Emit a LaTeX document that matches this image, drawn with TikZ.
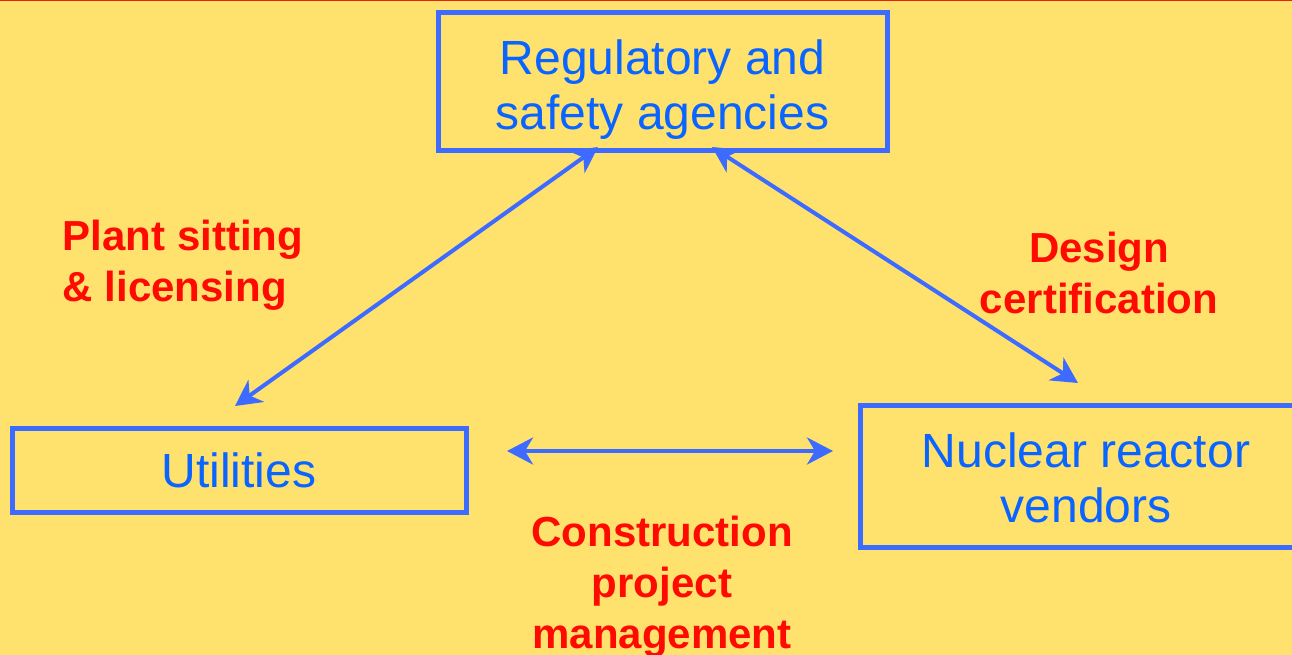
\documentclass[tikz,border=0pt]{standalone}
\usepackage{fontspec}
\setmainfont{Liberation Sans}
\usetikzlibrary{arrows.meta}
\definecolor{fondo}{HTML}{FFE16E}
\definecolor{azul}{HTML}{3D6BFF}
\definecolor{azultxt}{HTML}{0A64FF}
\definecolor{rojo}{HTML}{FF0A00}
\definecolor{borde}{HTML}{E8200F}

\begin{document}
\begin{tikzpicture}[x=1pt, y=-1pt,
      >={Stealth[length=26pt, width=27pt, inset=8pt]},
      caja/.style={draw=azul, line width=5pt, text=azultxt, align=center,
                   font=\fontsize{48}{55}\selectfont, inner sep=0pt},
      etiq/.style={text=rojo, font=\fontsize{42}{51}\selectfont\bfseries, inner sep=0pt},
      flecha/.style={azul, line width=4pt, <->}]
    \fill[fondo] (0,0) rectangle (1292,655);
    \useasboundingbox (0,0) rectangle (1292,655);
    \draw[borde, line width=3pt] (0,0) -- (1292,0);
    % cajas
    \node[caja, minimum width=449pt, minimum height=138pt] (reg) at (662.5,82)
        {\rule{0pt}{50pt}Regulatory and\\safety agencies};
    \node[caja, minimum width=454pt, minimum height=84pt] (util) at (239,470) {Utilities};
    \node[caja, minimum width=452pt, minimum height=142pt] (vend) at (1086,476)
        {\rule{0pt}{39pt}Nuclear reactor\\vendors};
    % extremos de las flechas
    \coordinate (regL) at (598,147);
    \coordinate (regR) at (712,147);
    \coordinate (utilT) at (235,406);
    \coordinate (vendT) at (1078,383);
    \coordinate (utilR) at (507,451);
    \coordinate (vendL) at (833,451);
    \draw[flecha] (regL) -- (utilT);
    \draw[flecha] (regR) -- (vendT);
    \draw[flecha] (utilR) -- (vendL);
    % etiquetas
    \node[etiq, align=left] (plant) at (183,265) {Plant sitting\\\& licensing};
    \node[etiq, align=center] (design) at (1099,273) {Design\\certification};
    \node[etiq, align=center] (constr) at (662,587) {Construction\\project\\management};
  \end{tikzpicture}
\end{document}
